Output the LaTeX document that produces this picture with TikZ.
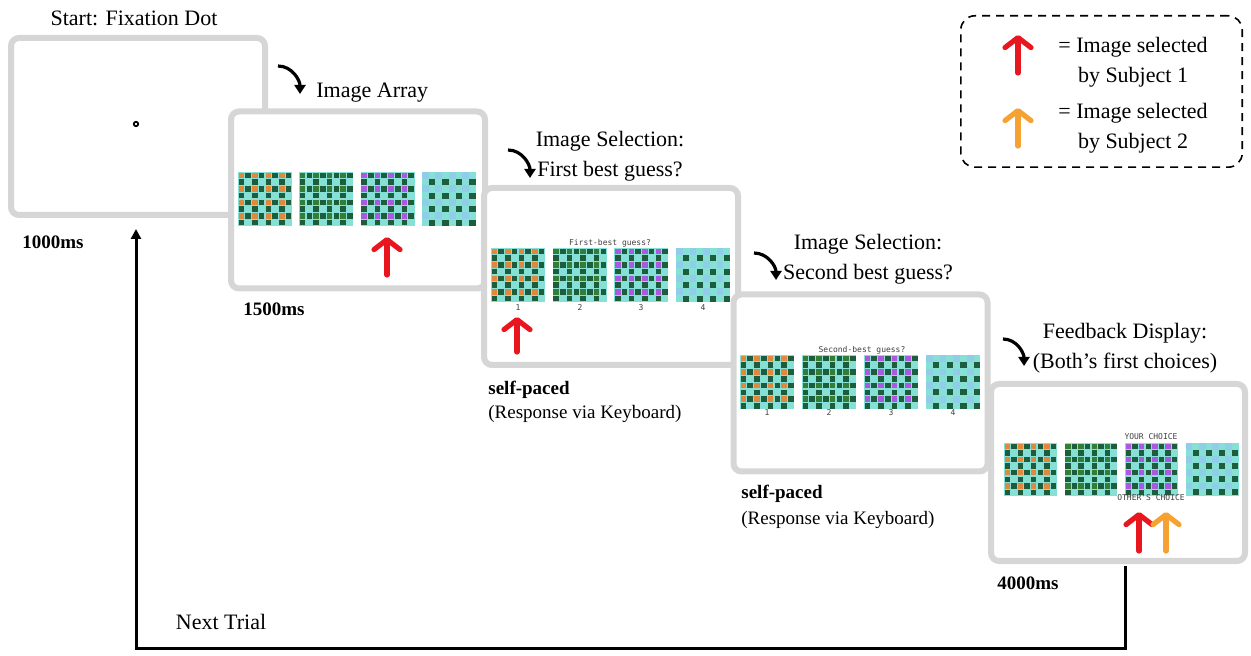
\documentclass[tikz,border=0pt]{standalone}
\usepackage{fontspec}
\setmainfont{Liberation Serif}
\newfontfamily\scrfont{DejaVu Sans Mono}
\usetikzlibrary{arrows.meta}
\definecolor{framegray}{HTML}{D6D6D6}
\definecolor{boardcyan}{HTML}{86E0D6}
\definecolor{boarddark}{HTML}{1E5C3E}
\definecolor{boardorange}{HTML}{E0893C}
\definecolor{boardgreen}{HTML}{347D34}
\definecolor{boardpurple}{HTML}{AA5AE0}
\definecolor{boardblue}{HTML}{90CDE8}
\definecolor{selred}{HTML}{E8161E}
\definecolor{selorange}{HTML}{F5A233}
\tikzset{
 screen/.style={draw=framegray,line width=3pt,fill=white,rounded corners=4pt,minimum width=127pt,minimum height=88.5pt},
 legendbox/.style={draw,line width=0.8pt,dash pattern=on 4pt off 3pt,rounded corners=7pt,minimum width=140.7pt,minimum height=75.7pt},
 choice/.style={line width=2.6pt,line cap=round,-{Straight Barb[length=5pt,width=13pt,round]}},
 turn/.style={line width=1.6pt,-{Triangle[length=4.5pt,width=5.5pt]}},
 loopline/.style={line width=1.5pt,-{Triangle[length=5pt,width=5pt]}},
 heading/.style={font=\fontsize{11}{15}\selectfont,align=center},
 timing/.style={font=\fontsize{9.5}{11}\selectfont\bfseries,anchor=west,inner sep=0pt},
 note/.style={font=\fontsize{9.5}{11}\selectfont,anchor=west,inner sep=0pt},
 scrtext/.style={font={\fontsize{4}{5}\scrfont},text=black!75,inner sep=0pt},
}
% four boards in a row: x, y, cell size, step
\newcommand\boardrow[4]{%
\foreach \k/\acc in {0/boardorange,1/boardgreen,2/boardpurple}{
\fill[boardcyan](#1+\k*#4,#2)rectangle++(8*#3,8*#3);
\foreach \r in {0,...,7}{
\foreach \c in {0,...,7}{
\pgfmathtruncatemacro\cellodd{mod(\r+\c,2)}
\pgfmathtruncatemacro\rowodd{mod(\r,2)}
\ifnum\cellodd=1
\fill[boarddark](#1+\k*#4+\c*#3+0.6,#2+\r*#3+0.6)rectangle++(#3-1.2,#3-1.2);
\else\ifnum\rowodd=0
\fill[\acc](#1+\k*#4+\c*#3+0.6,#2+\r*#3+0.6)rectangle++(#3-1.2,#3-1.2);
\fi\fi
}}}
\fill[boardcyan](#1+3*#4,#2)rectangle++(8*#3,8*#3);
\foreach \r in {0,...,7}{
\foreach \c in {0,...,7}{
\pgfmathtruncatemacro\cellodd{mod(\r+\c,2)}
\pgfmathtruncatemacro\darkcell{mod(\r,2)*mod(\c,2)}
\ifnum\darkcell=1
\fill[boarddark](#1+3*#4+\c*#3+0.3,#2+\r*#3+0.3)rectangle++(#3-0.6,#3-0.6);
\else\ifnum\cellodd=0
\fill[boardblue](#1+3*#4+\c*#3,#2+\r*#3)rectangle++(#3,#3);
\fi\fi
}}%
}

\begin{document}
\begin{tikzpicture}[x=0.5pt,y=-0.5pt]
\useasboundingbox(0,0)rectangle(1251,656);
%fixation screen
\node[screen](scr1)at(138,126.5){};
\node[circle,draw,line width=0.9pt,inner sep=0pt,minimum size=2.2pt](fixdot)at(136,124){};
\node[heading](startlbl)at(134,18){Start: Fixation Dot};
\node[timing](t1)at(22,242){1000ms};
%image array screen
\node[screen](scr2)at(358,200){};
\boardrow{238}{172}{6.75}{61.3}
\coordinate(red2a)at(387,275);
\coordinate(red2b)at(387,237);
\draw[choice,selred](red2a)--(red2b);
\node[heading,anchor=west,inner sep=0pt](arraylbl)at(316,93){Image Array};
\coordinate(turn2a)at(278,66);
\coordinate(turn2b)at(300,94);
\draw[turn](turn2a)to[out=0,in=90](turn2b);
\node[timing](t2)at(243,309){1500ms};
%first guess screen
\node[screen](scr3)at(611,276.5){};
\boardrow{491}{248}{6.75}{61.7}
\node[scrtext](q1)at(610,243){First-best guess?};
\foreach \n/\x in {1/518,2/580,3/641,4/703}{
\node[scrtext](n1\n)at(\x,308){\n};
}
\coordinate(red3a)at(517,352);
\coordinate(red3b)at(517,317);
\draw[choice,selred](red3a)--(red3b);
\node[heading](sel1lbl)at(610,156){Image Selection:\\First best guess?};
\coordinate(turn3a)at(508,150);
\coordinate(turn3b)at(530,178);
\draw[turn](turn3a)to[out=0,in=90](turn3b);
\node[timing](t3)at(488,390){self-paced};
\node[note](r3)at(488,414){(Response via Keyboard)};
%second guess screen
\node[screen](scr4)at(860.5,383){};
\boardrow{740}{355}{6.8}{62}
\node[scrtext](q2)at(862,350){Second-best guess?};
\foreach \n/\x in {1/767,2/829,3/891,4/953}{
\node[scrtext](n2\n)at(\x,413){\n};
}
\node[heading](sel2lbl)at(868,259){Image Selection:\\Second best guess?};
\coordinate(turn4a)at(754,253);
\coordinate(turn4b)at(776,280);
\draw[turn](turn4a)to[out=0,in=90](turn4b);
\node[timing](t4)at(741,494){self-paced};
\node[note](r4)at(741,520){(Response via Keyboard)};
%feedback screen
\node[screen](scr5)at(1118,472.5){};
\boardrow{1004}{443}{6.6}{60.6}
\node[scrtext](yours)at(1151,437){YOUR CHOICE};
\node[scrtext](others)at(1151,498){OTHER'S CHOICE};
\coordinate(red5a)at(1139,551);
\coordinate(red5b)at(1139,512);
\draw[choice,selred](red5a)--(red5b);
\coordinate(org5a)at(1166,551);
\coordinate(org5b)at(1166,512);
\draw[choice,selorange](org5a)--(org5b);
\node[heading](feedlbl)at(1125,348.5){Feedback Display:\\(Both's first choices)};
\coordinate(turn5a)at(1003,339);
\coordinate(turn5b)at(1024,366);
\draw[turn](turn5a)to[out=0,in=90](turn5b);
\node[timing](t5)at(997,583){4000ms};
%next trial loop
\coordinate(trialend)at(1125,566);
\coordinate(trialcorner)at(136,648);
\coordinate(trialstart)at(136,229);
\draw[loopline](trialend)|-(trialcorner)--(trialstart);
\node[heading](nextlbl)at(221,622){Next Trial};
%legend
\node[legendbox](legend)at(1101.5,91.5){};
\coordinate(leg1a)at(1018,73);
\coordinate(leg1b)at(1018,35);
\draw[choice,selred](leg1a)--(leg1b);
\node[heading](leg1txt)at(1133,62){= Image selected\\by Subject 1};
\coordinate(leg2a)at(1018,146);
\coordinate(leg2b)at(1018,108);
\draw[choice,selorange](leg2a)--(leg2b);
\node[heading](leg2txt)at(1133,128){= Image selected\\by Subject 2};
\end{tikzpicture}
\end{document}
